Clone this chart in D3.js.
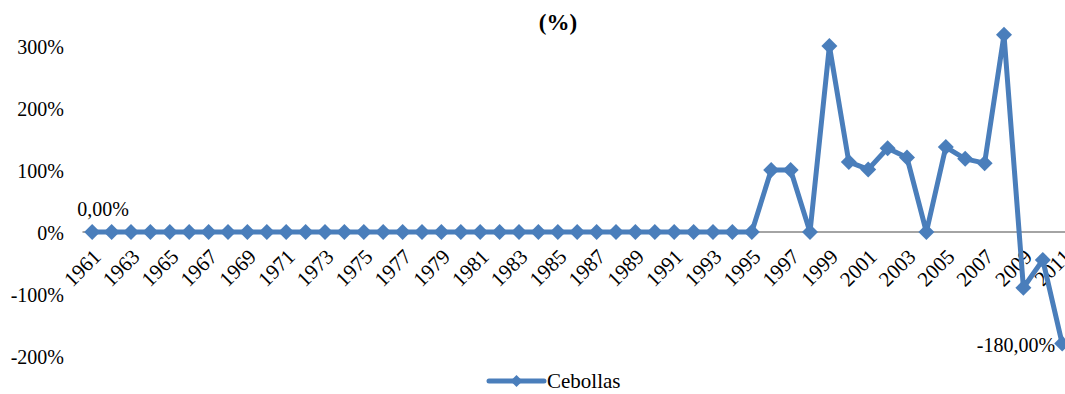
<!DOCTYPE html>
<html>
<head>
<meta charset="utf-8">
<script src="https://cdn.jsdelivr.net/npm/d3@7"></script>
<style>
  body { margin: 0; background: #fff; }
  svg { display: block; font-family: "Liberation Serif", "Times New Roman", serif; }
</style>
</head>
<body>
<svg id="chart" width="1065" height="394"></svg>
<script>
var years = d3.range(1961, 2012);
// zero from 1961 to 1995, then the visible swings
var values = [
  0, 0, 0, 0, 0, 0, 0, 0, 0, 0,
  0, 0, 0, 0, 0, 0, 0, 0, 0, 0,
  0, 0, 0, 0, 0, 0, 0, 0, 0, 0,
  0, 0, 0, 0, 0,
  100, 100, 0, 300, 113, 101, 135, 120, 0, 137, 118, 111, 318, -90, -45, -180
];
var yTicks = [300, 200, 100, 0, -100, -200];
var seriesName = "Cebollas";
var title = "(%)";

var svg = d3.select("#chart");
var color = "#4a7ebb";

var x = d3.scaleBand().domain(years).range([82.5, 82.5 + 51 * 19.4]);
var y = d3.scaleLinear().domain([-200, 300]).range([356, 46]);

svg.append("text")
  .attr("x", 558).attr("y", 30)
  .attr("text-anchor", "middle")
  .style("font-weight", "bold").style("font-size", "23px")
  .text(title);

// y axis labels (no line)
var yAxis = svg.append("g").attr("transform", "translate(64,0)")
  .call(d3.axisLeft(y).tickValues(yTicks).tickSize(0).tickPadding(0).tickFormat(function(d) { return d + "%"; }));
yAxis.select(".domain").remove();
yAxis.selectAll("text").style("font-size", "20px").style("font-family", "Liberation Serif").attr("fill", "#000").attr("dy", "0.35em");

// category axis along 0
svg.append("line")
  .attr("x1", x.range()[0]).attr("x2", 1065)
  .attr("y1", y(0)).attr("y2", y(0))
  .attr("stroke", "#868686").attr("stroke-width", 1.5);

svg.append("g").selectAll("text")
  .data(years.filter(function(d, i) { return i % 2 === 0; }))
  .enter().append("text")
  .attr("text-anchor", "end")
  .attr("transform", function(d) { return "translate(" + (x(d) + x.bandwidth() / 2 + 10) + "," + (y(0) + 26) + ") rotate(-45)"; })
  .style("font-size", "21px")
  .text(function(d) { return d; });

var cx = function(d, i) { return x(years[i]) + x.bandwidth() / 2; };
var line = d3.line().x(function(d, i) { return cx(d, i); }).y(function(d) { return y(d); });

svg.append("path")
  .datum(values)
  .attr("d", line)
  .attr("fill", "none").attr("stroke", color).attr("stroke-width", 5)
  .attr("stroke-linejoin", "round");

var diamond = "M0,-8L8,0L0,8L-8,0Z";
svg.append("g").selectAll("path")
  .data(values).enter().append("path")
  .attr("d", diamond)
  .attr("transform", function(d, i) { return "translate(" + cx(d, i) + "," + y(d) + ")"; })
  .attr("fill", color);

// data labels
svg.append("text")
  .attr("x", cx(values[0], 0) + 11).attr("y", y(values[0]) - 16)
  .attr("text-anchor", "middle").style("font-size", "20px")
  .text("0,00%");
var last = values.length - 1;
svg.append("text")
  .attr("x", cx(values[last], last) - 7).attr("y", y(values[last]) + 8)
  .attr("text-anchor", "end").style("font-size", "20px")
  .text("-180,00%");

// legend
var lg = svg.append("g").attr("transform", "translate(489,381)");
lg.append("line").attr("x1", 0).attr("x2", 55).attr("stroke", color).attr("stroke-width", 5).attr("stroke-linecap", "round");
lg.append("path").attr("d", "M0,-6L6,0L0,6L-6,0Z").attr("transform", "translate(27.5,0)").attr("fill", color);
lg.append("text").attr("x", 58).attr("y", 7).style("font-size", "21px").text(seriesName);
</script>
</body>
</html>
